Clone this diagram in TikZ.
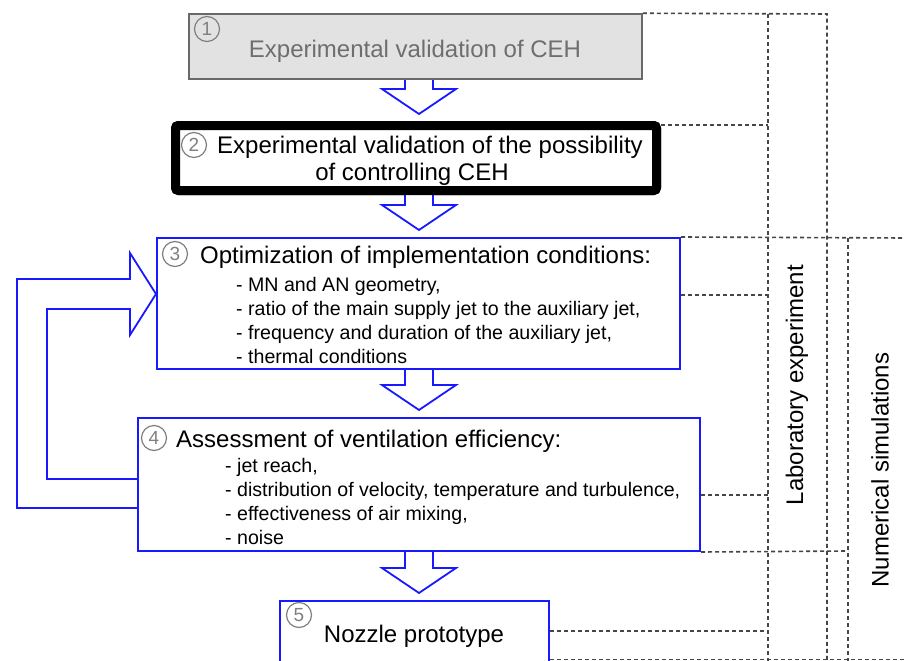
\documentclass[tikz,border=0pt]{standalone}
\usepackage{fontspec}
\setmainfont{Liberation Sans}
\usetikzlibrary{calc}
\definecolor{bl}{RGB}{25,25,255}
\definecolor{dg}{RGB}{70,70,70}
\definecolor{cg}{RGB}{128,128,128}
\definecolor{bg1}{RGB}{105,105,105}
\definecolor{fillg}{RGB}{226,226,226}
\definecolor{tg}{RGB}{110,110,110}
\newcommand\hollowdown[2]{%
  \draw[hollow] let \p1=(#1.south), \p2=(#2.north) in
    (405pt,\y1+4pt) -- (405pt,\y2+32pt) -- (382pt,\y2+32pt) -- (419pt,\y2+7pt)
    -- (456pt,\y2+32pt) -- (433pt,\y2+32pt) -- (433pt,\y1+4pt) -- cycle;}
\begin{document}
\begin{tikzpicture}[x=1pt,y=-1pt,
  box/.style={rectangle, draw=bl, line width=2pt, fill=white, inner sep=0pt},
  hollow/.style={draw=bl, line width=1.8pt, fill=white, line join=miter},
  dline/.style={draw=dg, line width=1.6pt, dash pattern=on 4pt off 3pt},
  circ/.style={circle, draw=cg, line width=1.2pt, minimum size=25pt, inner sep=0pt, text=cg, font=\fontsize{19}{19}\selectfont},
  ttl/.style={font=\fontsize{24}{28}\selectfont, inner sep=0pt},
  itm/.style={font=\fontsize{19.6}{24}\selectfont, inner sep=0pt, anchor=base west},
  vlab/.style={font=\fontsize{24}{28}\selectfont, rotate=90, inner sep=0pt}
]
\useasboundingbox (0,0) rectangle (905,661);
\fill[white] (0,0) rectangle (905,661);
\clip (0,0) rectangle (905,661);

% box nodes (named, used by the connectors)
\path
  node[rectangle, draw=bg1, fill=fillg, line width=1.5pt, minimum width=453pt, minimum height=65pt, inner sep=0pt] (b1) at (415.5,46.5) {}
  node[rectangle, draw=black, fill=white, line width=9pt, rounded corners=3pt, minimum width=481pt, minimum height=65pt, inner sep=0pt] (b2) at (416,158) {}
  node[box, minimum width=523pt, minimum height=131pt] (b3) at (418.5,303.5) {}
  node[box, minimum width=562pt, minimum height=133pt] (b4) at (419,484.5) {}
  node[box, minimum width=269pt, minimum height=62pt] (b5) at (414.5,632) {};

% dashed guide lines
\coordinate (r1) at (827,14);
\coordinate (r1b) at (827,661);
\coordinate (v1t) at (768,14);
\coordinate (v1b) at (768,661);
\coordinate (v3t) at (848,238);
\coordinate (v3b) at (848,661);
\draw[dline] (b1.north east) -- (r1) -- (r1b);
\draw[dline] (v1t) -- (v1b);
\draw[dline] (v3t) -- (v3b);
\draw[dline] (b2.east |- 0,125) -- (768,125);
\draw[dline] (b3.north east) -- (905,238);
\draw[dline] (b3.east |- 0,295) -- (768,295);
\draw[dline] (b4.east |- 0,495) -- (768,495);
\draw[dline] (b4.south east) -- (848,551);
\draw[dline] (b5.east |- 0,631) -- (768,631);
\draw[dline] (b5.east |- 0,659.5) -- (905,659.5);

% hollow down arrows
\hollowdown{b1}{b2}
\hollowdown{b2}{b3}
\hollowdown{b3}{b4}
\hollowdown{b4}{b5}

% feedback arrow
\draw[hollow, fill=none] (b4.west |- 0,479) -- (47,479) -- (47,309) -- (130,309) -- (130,335)
  -- (b3.west |- 0,294) -- (130,253) -- (130,279) -- (17,279) -- (17,508) -- (b4.west |- 0,508);

% boxes on top of the arrow tails
\draw[draw=bg1, fill=fillg, line width=1.5pt] (189,14) rectangle (642,79);
\draw[draw=black, fill=white, line width=9pt, rounded corners=3pt] (175.5,125.5) rectangle (656.5,190.5);
\draw[draw=bl, fill=white, line width=2pt] (157,238) rectangle (680,369);
\draw[draw=bl, fill=white, line width=2pt] (138,418) rectangle (700,551);
\draw[draw=bl, fill=white, line width=2pt] (280,601) rectangle (549,663);

% box 1
\node[circ] (c1) at (207,29) {1};
\node[ttl, text=tg, anchor=base] (t1) at (415,58) {Experimental validation of CEH};
% box 2
\node[circ] (c2) at (194,145) {2};
\node[ttl, anchor=base west] (t2a) at (217,153) {Experimental validation of the possibility};
\node[ttl, anchor=base] (t2b) at (412,180) {of controlling CEH};
% box 3
\node[circ] (c3) at (175,254) {3};
\node[ttl, anchor=base west] (t3) at (200,263) {Optimization of implementation conditions:};
\node[itm] (i31) at (236,291) {- MN and AN geometry,};
\node[itm] (i32) at (236,315) {- ratio of the main supply jet to the auxiliary jet,};
\node[itm] (i33) at (236,339) {- frequency and duration of the auxiliary jet,};
\node[itm] (i34) at (236,363) {- thermal conditions};
% box 4
\node[circ] (c4) at (154,438) {4};
\node[ttl, anchor=base west] (t4) at (176,447) {Assessment of ventilation efficiency:};
\node[itm] (i41) at (225,472) {- jet reach,};
\node[itm] (i42) at (225,496) {- distribution of velocity, temperature and turbulence,};
\node[itm] (i43) at (225,520) {- effectiveness of air mixing,};
\node[itm] (i44) at (225,544) {- noise};
% box 5
\node[circ] (c5) at (299,615) {5};
\node[ttl, anchor=base] (t5) at (414,642) {Nozzle prototype};
% side labels
\node[vlab] (lab) at (797,385) {Laboratory experiment};
\node[vlab] (num) at (880,470) {Numerical simulations};
\end{tikzpicture}
\end{document}
